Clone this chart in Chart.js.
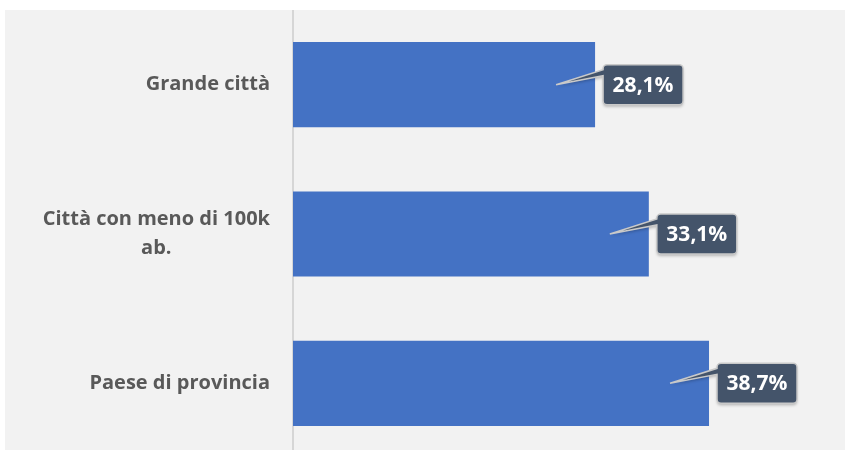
<!DOCTYPE html>
<html>
<head>
<meta charset="utf-8">
<script src="https://cdn.jsdelivr.net/npm/chart.js@4/dist/chart.umd.min.js"></script>
<style>
  html,body{margin:0;padding:0;background:#fff;overflow:hidden;}
  #wrap{position:absolute;left:5px;top:10px;width:840px;height:448px;background:#f2f2f2;}
</style>
</head>
<body>
<div id="wrap"><canvas id="chart"></canvas></div>
<script>
// categories and values
const categories = ['Grande città', ['Città con meno di 100k', 'ab.'], 'Paese di provincia'];
const values = [28.1, 33.1, 38.7];
const axisMin = 0;
const axisMax = 50;

const FONT = '"Open Sans", "Noto Sans", sans-serif';

function fmt(v){ return v.toFixed(1).replace('.', ',') + '%'; }

// category labels on the left, right aligned, wrapped lines centred on each other
const yLabels = {
  id: 'yLabels',
  afterDraw(chart){
    const ctx = chart.ctx;
    const y = chart.scales.y;
    const right = chart.chartArea.left - 23;
    ctx.save();
    ctx.font = 'bold 20px ' + FONT;
    ctx.fillStyle = '#595959';
    ctx.textBaseline = 'middle';
    categories.forEach((c, i) => {
      const lines = Array.isArray(c) ? c : [c];
      const widest = Math.max(...lines.map(l => ctx.measureText(l).width));
      const cy = y.getPixelForValue(i);
      const lh = 29;
      const y0 = cy - (lines.length - 1) * lh / 2;
      ctx.textAlign = 'center';
      lines.forEach((l, j) => ctx.fillText(l, right - widest / 2, y0 + j * lh));
    });
    ctx.restore();
  }
};

// dark callout boxes next to the bar ends
const callouts = {
  id: 'callouts',
  afterDatasetsDraw(chart){
    const ctx = chart.ctx;
    const meta = chart.getDatasetMeta(0);
    meta.data.forEach((bar, i) => {
      const L = bar.x + 8, W = 80, H = 40;
      const T = bar.y - H / 2, R = L + W, B = T + H, r = 4;
      const tipX = bar.x - 39, tipY = bar.y;
      ctx.save();
      ctx.beginPath();
      ctx.moveTo(L + r, T);
      ctx.arcTo(R, T, R, B, r);
      ctx.arcTo(R, B, L, B, r);
      ctx.arcTo(L, B, L, T, r);
      ctx.lineTo(L, T + 11);
      ctx.lineTo(tipX, tipY);
      ctx.lineTo(L, T + 5);
      ctx.arcTo(L, T, R, T, r);
      ctx.closePath();
      ctx.shadowColor = 'rgba(0,0,0,0.25)';
      ctx.shadowOffsetY = 2;
      ctx.shadowBlur = 3;
      ctx.fillStyle = '#44546a';
      ctx.fill();
      ctx.shadowColor = 'transparent';
      ctx.lineWidth = 1.5;
      ctx.strokeStyle = '#c9c9c9';
      ctx.stroke();
      ctx.font = 'bold 21px ' + FONT;
      ctx.fillStyle = '#ffffff';
      ctx.textAlign = 'center';
      ctx.textBaseline = 'middle';
      ctx.fillText(fmt(values[i]), (L + R) / 2, bar.y + 1);
      ctx.restore();
    });
  }
};

new Chart(document.getElementById('chart'), {
  type: 'bar',
  data: {
    labels: categories,
    datasets: [{
      data: values,
      backgroundColor: '#4472c4',
      borderWidth: 0,
      categoryPercentage: 1,
      barPercentage: 0.57
    }]
  },
  options: {
    indexAxis: 'y',
    responsive: true,
    maintainAspectRatio: false,
    animation: false,
    layout: { padding: { left: 0, right: 14.5, top: 0, bottom: 0 } },
    plugins: { legend: { display: false }, tooltip: { enabled: false } },
    scales: {
      x: { display: false, min: axisMin, max: axisMax },
      y: {
        ticks: { display: false },
        grid: { display: false },
        border: { display: true, color: '#d6d6d6', width: 2 },
        afterFit: s => { s.width = 288; }
      }
    }
  },
  plugins: [yLabels, callouts]
});
</script>
</body>
</html>
